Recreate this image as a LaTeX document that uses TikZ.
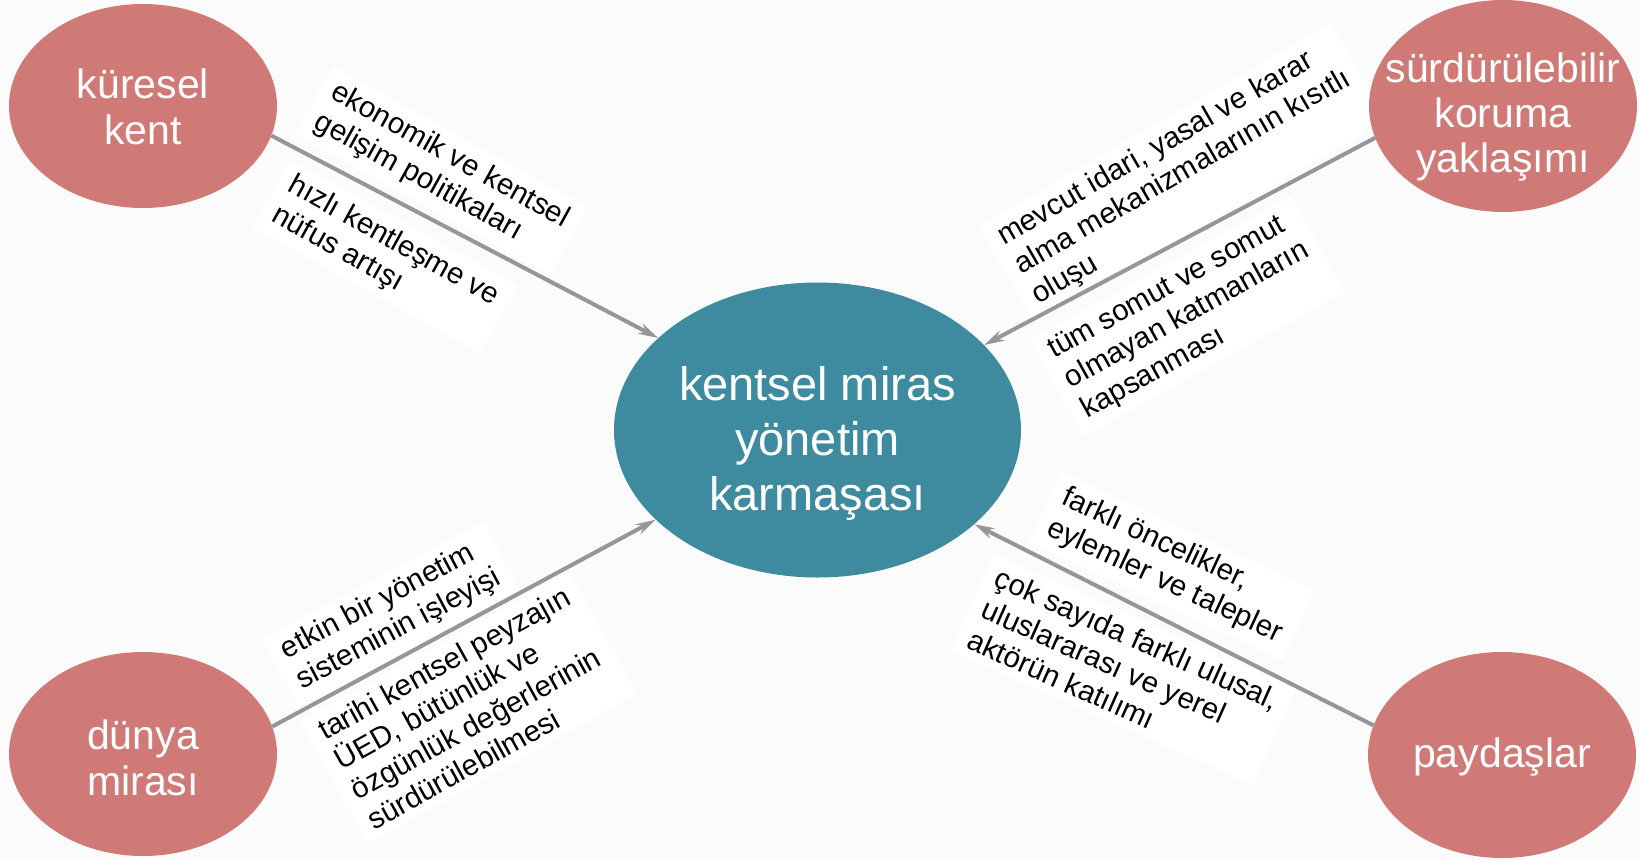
\documentclass[tikz,border=0pt]{standalone}
\usepackage{fontspec}
\setmainfont{Liberation Sans}
\usetikzlibrary{shapes.geometric,arrows.meta}
\definecolor{salmon}{RGB}{208,122,119}
\definecolor{tealc}{RGB}{62,138,158}
\definecolor{bgc}{RGB}{251,251,251}
\definecolor{arrowc}{RGB}{150,150,150}
\begin{document}
\begin{tikzpicture}[x=1pt,y=-1pt,
  corner/.style={ellipse, fill=salmon, minimum width=268pt, minimum height=204pt, inner sep=0pt},
  hub/.style={ellipse, fill=tealc, minimum width=407pt, minimum height=295pt, inner sep=0pt},
  cornertext/.style={text=white, align=center, font=\fontsize{41}{46}\selectfont, inner sep=0pt},
  hubtext/.style={text=white, align=center, font=\fontsize{47}{55}\selectfont, inner sep=0pt},
  lbl/.style={fill=white, align=left, font=\fontsize{29.5}{34}\selectfont, inner xsep=12pt, inner ysep=8pt, anchor=north west},
  conn/.style={draw=arrowc, line width=4pt, -{Stealth[length=20pt,width=11pt]}}
]
\fill[bgc] (0,0) rectangle (1639,860);
\useasboundingbox (0,0) rectangle (1639,860);

% label boxes
\node[lbl, rotate=-29] (l1) at (333,66) {ekonomik ve kentsel\\gelişim politikaları};
\node[lbl, rotate=-29] (l2) at (290.4,159.2) {hızlı kentleşme ve\\nüfus artışı};
\node[lbl, rotate=30] (l3) at (979,226) {mevcut idari, yasal ve karar\\alma mekanizmalarının kısıtlı\\oluşu};
\node[lbl, rotate=29] (l4) at (1030,340) {tüm somut ve somut\\olmayan katmanların\\kapsanması};
\node[lbl, rotate=28] (l5) at (262,639) {etkin bir yönetim\\sisteminin işleyişi};
\node[lbl, rotate=29] (l6) at (300,721) {tarihi kentsel peyzajın\\ÜED, bütünlük ve\\özgünlük değerlerinin\\sürdürülebilmesi};
\node[lbl, rotate=-25] (l7) at (1061.5,471.7) {farklı öncelikler,\\eylemler ve talepler};
\node[lbl, rotate=-24] (l8) at (993.8,553.8) {çok sayıda farklı ulusal,\\uluslararası ve yerel\\aktörün katılımı};

% ellipses
\node[hub] (hub) at (817.5,430) {};
\node[corner] (kuresel) at (143,106) {};
\node[corner, minimum height=212pt] (surd) at (1503,106) {};
\node[corner] (dunya) at (143,754) {};
\node[corner, minimum height=206pt] (paydas) at (1502,755) {};

\node[hubtext] (hubt) at (817.5,443) {kentsel miras\\yönetim\\karmaşası};
\node[cornertext] (kuresel-t) at (143,106.5) {küresel\\kent};
\node[cornertext, font=\fontsize{41}{45}\selectfont] (surd-t) at (1503,117) {sürdürülebilir\\koruma\\yaklaşımı};
\node[cornertext] (dunya-t) at (143,758) {dünya\\mirası};
\node[cornertext] (paydas-t) at (1502,757) {paydaşlar};

% connectors
\draw[conn] (kuresel.-13) -- (hub.150);
\draw[conn] (surd.194) -- (hub.27);
\draw[conn] (dunya.12) -- (hub.209);
\draw[conn] (paydas.167) -- (hub.-31);
\end{tikzpicture}
\end{document}
